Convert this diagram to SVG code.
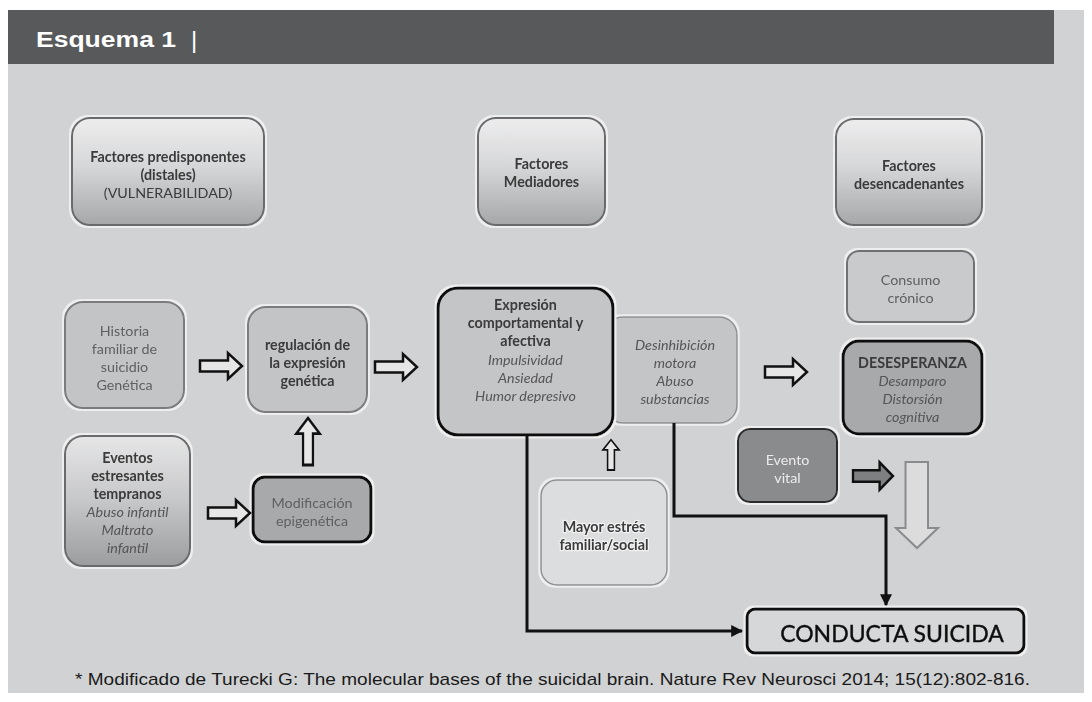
<svg xmlns="http://www.w3.org/2000/svg" xmlns:xlink="http://www.w3.org/1999/xlink" width="1092" height="702" viewBox="0 0 1092 702">
<defs>
<style>
.t{font-family:Lato,"Open Sans","Liberation Sans",sans-serif;font-size:14.3px;text-anchor:middle;fill:#3a3a3a}
.b{font-weight:bold}
.i{font-style:italic;fill:#555}
.g{fill:#5f6062}
.w{fill:#ececec}
.hdr{fill:url(#hg);stroke:#6a6b6d;stroke-width:2}
.mid{fill:#c3c4c6;stroke:#7b7c7e;stroke-width:2}
.thick{stroke:#111;stroke-width:3}
.line{fill:none;stroke:#111;stroke-width:3}
.ha{fill:#e6e6e6;stroke:#111;stroke-width:2.5;stroke-linejoin:miter}
.halo{paint-order:stroke;stroke:#f2f2f2;stroke-width:2.5px;stroke-linejoin:round}
</style>
<linearGradient id="hg" x1="0" y1="0" x2="0" y2="1">
<stop offset="0" stop-color="#ededee"/>
<stop offset="0.45" stop-color="#d6d7d8"/>
<stop offset="1" stop-color="#a6a7a9"/>
</linearGradient>
<linearGradient id="eg" x1="0" y1="0" x2="0" y2="1">
<stop offset="0" stop-color="#e6e6e7"/>
<stop offset="0.5" stop-color="#c6c7c8"/>
<stop offset="1" stop-color="#9c9d9f"/>
</linearGradient>
<filter id="glow" x="-10%" y="-10%" width="120%" height="120%">
<feMorphology in="SourceAlpha" operator="dilate" radius="2" result="d"/>
<feFlood flood-color="#eeeeee"/>
<feComposite in2="d" operator="in" result="h"/>
<feMerge><feMergeNode in="h"/><feMergeNode in="SourceGraphic"/></feMerge>
</filter>
<path id="ar" d="M0,-5.5 H28 V-13 L42,0 L28,13 V5.5 H0 Z"/>
<marker id="mk" viewBox="0 0 10 10" refX="9" refY="5" markerWidth="4" markerHeight="4" orient="auto" markerUnits="strokeWidth">
<path d="M0,0 L10,5 L0,10 Z" fill="#111"/>
</marker>
</defs>

<rect x="0" y="0" width="1092" height="702" fill="#ffffff"/>
<rect x="8" y="10" width="1076" height="683" fill="#d1d2d4"/>
<rect x="8" y="10" width="1046" height="54" fill="#58595b"/>
<text x="36" y="47" font-family="'Liberation Sans',Arial,sans-serif" font-size="22" font-weight="bold" fill="#ffffff" textLength="140" lengthAdjust="spacingAndGlyphs">Esquema 1</text>
<text x="191" y="48" font-family="'Liberation Sans',Arial,sans-serif" font-size="24" fill="#ffffff">|</text>

<g id="n-predisponentes" filter="url(#glow)">
<rect class="hdr" x="72" y="118" width="192" height="107" rx="18"/>
<text class="t b" x="168" y="162">Factores predisponentes</text>
<text class="t b" x="168" y="180">(distales)</text>
<text class="t" x="168" y="198">(VULNERABILIDAD)</text>
</g>

<g id="n-mediadores" filter="url(#glow)">
<rect class="hdr" x="478" y="118" width="127" height="107" rx="18"/>
<text class="t b" x="541.5" y="169">Factores</text>
<text class="t b" x="541.5" y="187">Mediadores</text>
</g>

<g id="n-desencadenantes" filter="url(#glow)">
<rect class="hdr" x="836" y="119" width="146" height="106" rx="18"/>
<text class="t b" x="909" y="171">Factores</text>
<text class="t b" x="909" y="189">desencadenantes</text>
</g>

<g id="n-consumo" filter="url(#glow)">
<rect x="847" y="251" width="127" height="71" rx="12" fill="#c9cacc" stroke="#707173" stroke-width="2"/>
<text class="t g" x="910.5" y="285">Consumo</text>
<text class="t g" x="910.5" y="303">crónico</text>
</g>

<g id="n-desesperanza" filter="url(#glow)">
<rect class="thick" x="843" y="341" width="139" height="93" rx="16" fill="#a8a9ab"/>
<text class="t b" x="912.5" y="368">DESESPERANZA</text>
<text class="t i" x="912.5" y="386">Desamparo</text>
<text class="t i" x="912.5" y="404">Distorsión</text>
<text class="t i" x="912.5" y="422">cognitiva</text>
</g>

<g id="n-historia" filter="url(#glow)">
<rect class="mid" x="65" y="302" width="119" height="106" rx="18"/>
<text class="t g" x="124.5" y="336">Historia</text>
<text class="t g" x="124.5" y="354">familiar de</text>
<text class="t g" x="124.5" y="372">suicidio</text>
<text class="t g" x="124.5" y="390">Genética</text>
</g>

<g id="n-regulacion" filter="url(#glow)">
<rect class="mid" x="248" y="307" width="119" height="105" rx="18"/>
<text class="t b" x="307.5" y="350">regulación de</text>
<text class="t b" x="307.5" y="368">la expresión</text>
<text class="t b" x="307.5" y="386">genética</text>
</g>

<g id="n-eventos" filter="url(#glow)">
<rect x="65" y="436" width="125" height="130" rx="18" fill="url(#eg)" stroke="#6a6b6d" stroke-width="2"/>
<text class="t b" x="127.5" y="463">Eventos</text>
<text class="t b" x="127.5" y="481">estresantes</text>
<text class="t b" x="127.5" y="499">tempranos</text>
<text class="t i" x="127.5" y="517">Abuso infantil</text>
<text class="t i" x="127.5" y="535">Maltrato</text>
<text class="t i" x="127.5" y="553">infantil</text>
</g>

<g id="n-modificacion" filter="url(#glow)">
<rect class="thick" x="253" y="477" width="118" height="65" rx="12" fill="#a8a9ab"/>
<text class="t g" x="312" y="508">Modificación</text>
<text class="t g" x="312" y="526">epigenética</text>
</g>

<g id="n-desinhibicion" filter="url(#glow)">
<rect x="605" y="317" width="132" height="106" rx="18" fill="#c4c5c7" stroke="#8e8f91" stroke-width="1.5"/>
<text class="t i" x="675" y="350">Desinhibición</text>
<text class="t i" x="675" y="368">motora</text>
<text class="t i" x="675" y="386">Abuso</text>
<text class="t i" x="675" y="404">substancias</text>
</g>

<g id="n-expresion" filter="url(#glow)">
<rect class="thick" x="438" y="288" width="175" height="147" rx="20" fill="#c4c5c7"/>
<text class="t b" x="525.5" y="310">Expresión</text>
<text class="t b" x="525.5" y="328">comportamental y</text>
<text class="t b" x="525.5" y="346">afectiva</text>
<text class="t i" x="525.5" y="365">Impulsividad</text>
<text class="t i" x="525.5" y="383">Ansiedad</text>
<text class="t i" x="525.5" y="401">Humor depresivo</text>
</g>

<g id="n-mayor" filter="url(#glow)">
<rect x="541" y="480" width="126" height="105" rx="16" fill="#dcdddf" stroke="#8e8f91" stroke-width="1.5"/>
<text class="t b halo" x="604" y="532">Mayor estrés</text>
<text class="t b halo" x="604" y="550">familiar/social</text>
</g>

<g id="n-evento" filter="url(#glow)">
<rect x="738" y="429" width="99" height="73" rx="12" fill="#8a8b8d" stroke="#2a2a2a" stroke-width="2"/>
<text class="t w" x="787.5" y="465">Evento</text>
<text class="t w" x="787.5" y="483">vital</text>
</g>

<g id="n-conducta" filter="url(#glow)">
<rect class="thick" x="747" y="609" width="277" height="44" rx="8" fill="#d6d7d8"/>
<text x="892" y="642" font-family="Lato,'Open Sans','Liberation Sans',sans-serif" font-size="23" text-anchor="middle" fill="#111" stroke="#111" stroke-width="0.4">CONDUCTA SUICIDA</text>
</g>

<g id="connectors">
<use xlink:href="#ar" href="#ar" class="ha" transform="translate(200,366)"/>
<use xlink:href="#ar" href="#ar" class="ha" transform="translate(375,367)"/>
<use xlink:href="#ar" href="#ar" class="ha" transform="translate(208,513)"/>
<use xlink:href="#ar" href="#ar" class="ha" transform="translate(765,372)"/>
<use xlink:href="#ar" href="#ar" class="ha" transform="translate(308,465) rotate(-90) scale(1.12,0.9)"/>
<use xlink:href="#ar" href="#ar" class="ha" transform="translate(611,470) rotate(-90) scale(0.72,0.62)"/>
<use xlink:href="#ar" href="#ar" transform="translate(853,476) scale(0.95,1.05)" fill="#7e7f81" stroke="#111" stroke-width="2.5"/>
<path d="M905.5,462 H928 V528 H938 L917,548 L896,528 H905.5 Z" fill="#dcdcdd" stroke="#8a8b8d" stroke-width="2"/>
<path class="line" d="M527,435 V631 H742" marker-end="url(#mk)"/>
<path class="line" d="M674,423 V516 H886 V605" marker-end="url(#mk)"/>
</g>

<text x="75" y="685" font-family="'Liberation Sans',Arial,sans-serif" font-size="17" fill="#1a1a1a" textLength="955" lengthAdjust="spacingAndGlyphs">* Modificado de Turecki G: The molecular bases of the suicidal brain. Nature Rev Neurosci 2014; 15(12):802-816.</text>
</svg>
